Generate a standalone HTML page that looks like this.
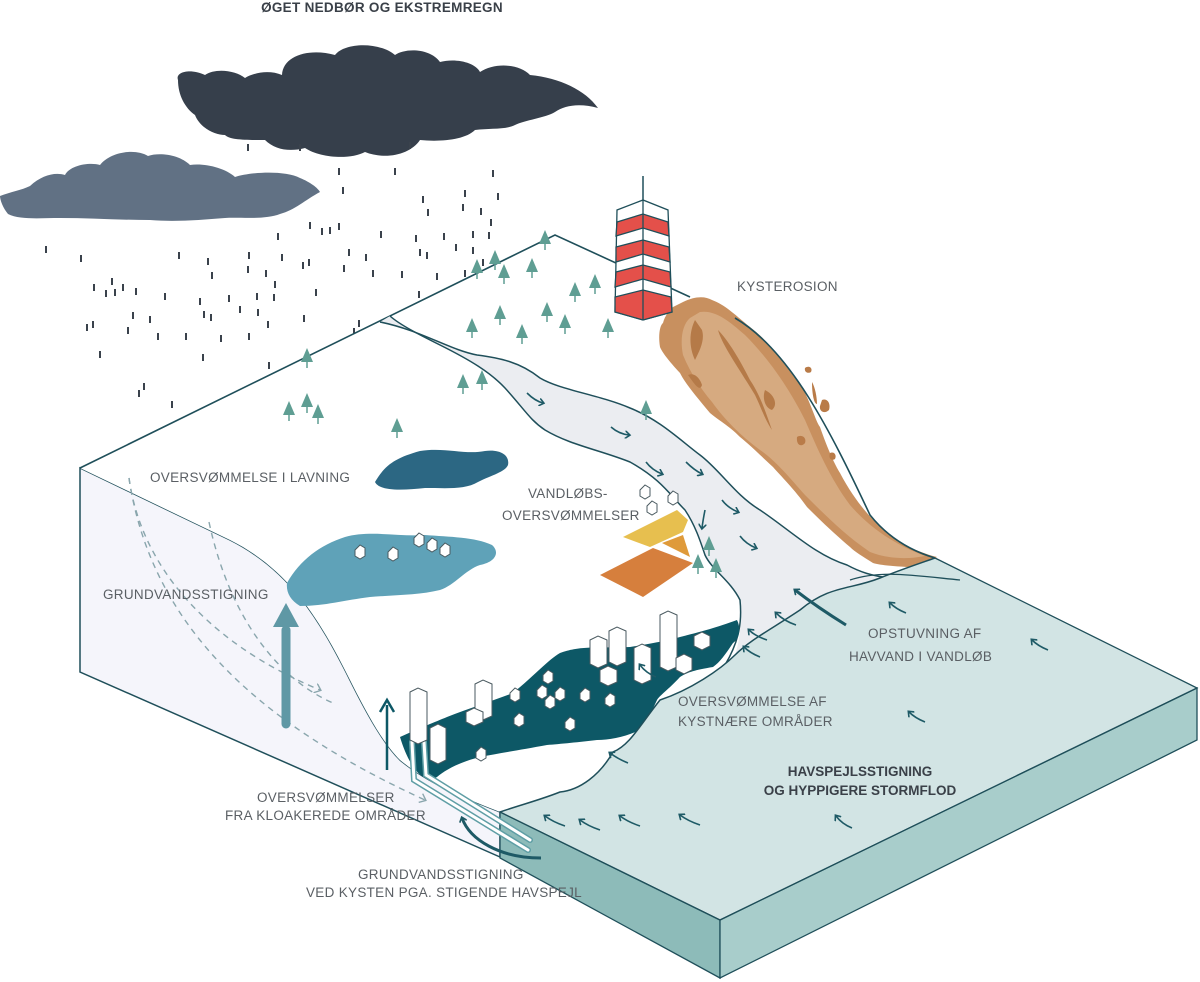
<!DOCTYPE html>
<html><head><meta charset="utf-8"><style>
html,body{margin:0;padding:0;background:#fff;}
svg{display:block;}
text{font-family:"Liberation Sans",sans-serif;}
.lbl{font-size:13.5px;fill:#5a5f64;letter-spacing:0.3px;}
.b{font-weight:bold;fill:#3a4048;}
</style></head><body>
<svg width="1200" height="982" viewBox="0 0 1200 982" xmlns="http://www.w3.org/2000/svg">
<defs>
<marker id="ah" markerWidth="8" markerHeight="8" refX="4" refY="4" orient="auto" markerUnits="userSpaceOnUse"><path d="M0,0 L5,4 L0,8" fill="none" stroke="#1e5a66" stroke-width="1.6"/></marker>
<marker id="ag" markerWidth="10" markerHeight="10" refX="5" refY="5" orient="auto" markerUnits="userSpaceOnUse"><path d="M0,0 L6,5 L0,10" fill="none" stroke="#8aa6ad" stroke-width="1.4"/></marker>
<g id="tree"><polygon points="0,-14 -6,0 6,0" fill="#5f9e93"/><line x1="0" y1="-2" x2="0" y2="6" stroke="#5f9e93" stroke-width="1.5"/></g>
</defs>

<!-- title -->
<text x="382" y="12" text-anchor="middle" class="b" style="font-size:13.5px;letter-spacing:0.3px">ØGET NEDBØR OG EKSTREMREGN</text>

<!-- clouds -->
<path d="M178,80 C175,72 190,68 205,75 C215,68 235,70 245,78 C255,72 270,70 282,75 C283,55 310,48 335,55 C345,42 380,42 395,55 C405,48 430,48 440,62 C455,58 475,62 480,72 C495,62 520,64 530,75 C560,78 585,90 598,108 C580,103 565,105 555,112 C545,118 525,120 515,125 C505,130 490,128 475,130 C465,140 440,142 420,140 C410,155 385,160 365,152 C350,160 320,158 305,148 C290,152 275,150 265,140 C245,140 230,140 225,135 C215,135 200,128 195,115 C185,108 178,95 178,80 Z" fill="#363f4b"/>
<path d="M0,196 C10,192 22,190 30,186 C42,175 55,172 65,175 C70,165 90,162 100,165 C110,152 135,148 148,156 C160,152 180,155 190,165 C205,163 225,168 235,177 C250,172 285,170 300,178 C310,182 318,188 320,192 C305,200 295,210 280,214 C265,220 240,217 225,218 C200,220 175,222 150,220 C120,220 90,218 60,218 C40,218 20,220 8,214 C3,208 0,200 0,196 Z" fill="#617184"/>

<!-- rain -->
<path stroke="#3a424c" stroke-width="2" fill="none" d="M248,144v7M339,168v7M395,168v7M493,170v7M343,187v7M423,196v7M465,190v7M498,193v7M463,204v7M481,208v7M428,209v7M491,219v7M310,222v7M322,228v7M330,227v7M339,223v7M278,233v7M381,231v7M416,235v7M444,233v7M473,231v7M489,232v7M456,244v7M473,247v7M420,249v7M427,252v7M349,249v7M366,254v7M46,246v7M81,255v7M179,252v7M208,258v7M249,252v7M282,254v7M303,262v7M309,259v7M344,265v7M248,266v7M212,272v7M266,270v7M373,270v7M402,271v7M437,273v7M465,270v7M483,259v7M112,278v7M94,284v7M106,290v7M115,289v7M123,284v7M136,288v7M165,293v7M200,298v7M229,295v7M257,293v7M274,294v7M275,281v7M316,289v7M419,291v7M484,299v7M133,312v7M150,316v7M204,311v7M211,314v7M240,306v7M258,309v7M268,321v7M304,315v7M87,324v7M93,321v7M128,327v7M158,333v7M186,333v7M221,335v7M249,333v7M359,320v7M354,328v7M387,338v7M100,351v7M203,354v7M269,362v7M449,348v7M478,346v7M432,366v7M498,374v7M360,382v7M144,383v7M139,390v7M172,401v7M233,410v7M263,408v7M216,429v7M282,437v7M144,444v7M410,142v7M300,144v7"/>

<!-- left side face -->
<path d="M80,468 L230,540 C290,570 320,620 350,680 C370,720 385,745 400,760 C430,785 470,800 500,812 L500,857 L80,672 Z" fill="#f5f5fb" stroke="#1f4f5a" stroke-width="1.5"/>
<!-- land top -->
<path d="M80,468 L555,235 L690,297 L735,318 C790,350 830,430 870,515 C890,540 915,552 935,558 L880,578 C850,590 830,585 800,610 C770,630 750,640 735,655 C720,670 690,690 660,700 C640,725 630,745 613,752 C600,775 580,790 560,792 C540,800 520,805 500,812 C470,800 430,785 400,760 C385,745 370,720 350,680 C320,620 290,570 230,540 Z" fill="#ffffff"/>
<line x1="80" y1="468" x2="690" y2="297" stroke="none"/>
<path d="M80,468 L555,235 L690,297" fill="none" stroke="#1f4f5a" stroke-width="1.6"/>

<!-- river -->
<path d="M380,322 C420,330 450,350 477,355 C500,358 520,362 540,378 C560,390 600,395 630,408 C660,420 680,440 700,455 C720,470 735,495 760,510 C790,530 815,555 847,565 C860,572 872,576 880,578 C850,590 830,585 800,610 C770,630 750,640 735,655 C740,640 742,620 740,600 C730,580 712,570 705,555 C700,540 695,525 685,510 C670,495 662,480 630,462 C600,450 570,445 545,430 C530,420 525,410 505,388 C490,372 470,360 440,345 C420,335 400,325 390,316 Z" fill="#ebedf1"/>
<path d="M380,322 C420,330 450,350 477,355 C500,358 520,362 540,378 C560,390 600,395 630,408 C660,420 680,440 700,455 C720,470 735,495 760,510 C790,530 815,555 847,565 C860,572 872,576 890,578" fill="none" stroke="#1f4f5a" stroke-width="1.5"/>
<path d="M390,316 C400,325 420,335 440,345 C470,360 490,372 505,388 C525,410 530,420 545,430 C570,445 600,450 630,462 C662,480 670,495 685,510 C695,525 700,540 705,555 C712,570 730,580 740,600 C742,620 740,640 725,665" fill="none" stroke="#1f4f5a" stroke-width="1.5"/>

<!-- erosion -->
<path d="M683,302 C695,296 705,296 712,300 C725,305 733,313 750,327 C770,342 790,370 800,383 C812,405 815,420 820,427 C828,450 835,465 840,473 C850,492 860,505 867,513 C880,528 895,540 900,543 C915,550 928,555 937,557 C925,565 915,568 907,567 C890,566 880,565 873,563 C862,556 855,552 850,547 C830,530 815,515 807,507 C795,490 780,475 773,467 C760,455 750,445 740,437 C728,425 718,420 710,413 C695,395 685,383 680,373 C668,360 662,352 660,347 C658,335 660,325 663,323 C665,315 670,310 673,307 Z" fill="#c8905f"/>
<path d="M700,312 C715,310 728,320 745,335 C770,360 790,390 805,420 C818,450 830,478 850,505 C870,528 895,545 925,556 C905,560 885,558 870,552 C845,535 825,515 805,495 C790,478 775,460 760,450 C740,435 725,420 712,402 C700,388 690,372 683,355 C680,340 682,325 690,318 Z" fill="#d6aa80"/>
<path d="M695,320 C690,330 688,345 695,360 C700,350 705,340 702,330 Z M718,330 C722,345 740,370 755,395 C760,405 765,420 772,430 C765,410 760,395 750,380 C740,360 728,340 718,330 Z M688,375 C695,385 700,392 702,385 C700,378 694,372 688,375 Z M765,390 C775,395 778,405 772,410 C765,408 762,398 765,390 Z" fill="#b57a48"/>
<path d="M735,318 C790,350 830,430 870,515 C890,540 915,552 935,558" fill="none" stroke="#1f4f5a" stroke-width="1.6"/>
<path d="M805,368 c4,-3 8,0 6,4 c-3,2 -7,0 -6,-4Z M812,382 c3,5 5,15 5,22 c-3,0 -5,-10 -5,-22Z M822,400 c5,-2 9,3 7,10 c-4,4 -10,2 -9,-4Z M797,437 c4,-3 10,0 8,6 c-3,4 -9,3 -8,-6Z M830,453 c4,-2 7,2 5,6 c-3,2 -7,0 -5,-6Z" fill="#b97b48"/>

<!-- lighthouse -->
<line x1="643" y1="176" x2="643" y2="203" stroke="#1f4f5a" stroke-width="1.5"/>
<g stroke="#1f4f5a" stroke-width="1.3">
<polygon points="617,210 643,200 668,210 672,312 643,320 615,312" fill="#fff"/>
<polygon points="617,222 643,214 668,222 669,236 643,228 616,236" fill="#e4504a"/>
<polygon points="616,247 643,240 669,247 670,262 643,254 616,262" fill="#e4504a"/>
<polygon points="616,272 643,265 670,272 671,287 643,279 615,287" fill="#e4504a"/>
<polygon points="615,297 643,290 671,297 672,312 643,320 615,312" fill="#e4504a"/>
<line x1="643" y1="200" x2="643" y2="320"/>
</g>

<!-- lakes -->
<path d="M375,482 C385,465 395,458 420,451 C445,447 465,455 485,451 C500,449 510,455 508,465 C505,472 492,475 478,482 C465,490 445,488 425,488 C405,490 380,492 375,482 Z" fill="#2c6783"/>
<path d="M287,583 C300,560 320,545 345,537 C370,530 400,537 425,535 C450,537 475,537 492,545 C500,552 496,562 480,565 C465,570 455,585 440,590 C420,595 395,595 370,597 C345,600 325,606 300,606 C290,600 286,592 287,583 Z" fill="#5fa2b8"/>

<!-- fields -->
<polygon points="623,537 677,510 688,520 683,532 650,547" fill="#e7bf4f"/>
<polygon points="662,543 683,535 690,557" fill="#df9a3a"/>
<polygon points="600,575 653,548 693,563 643,597" fill="#d67f3d"/>

<!-- city flood -->
<path d="M400,737 C420,728 435,722 447,717 C470,708 495,700 513,693 C535,675 548,660 560,653 C580,646 590,648 630,647 C655,643 670,640 680,637 C700,632 715,628 737,620 C742,630 738,640 733,643 C725,655 720,662 713,667 C695,670 688,672 680,677 C668,690 660,695 657,700 C650,715 645,725 640,730 C625,737 610,740 597,740 C580,742 560,744 547,745 C520,750 500,753 480,757 C460,762 445,770 437,777 C425,785 410,770 400,737 Z" fill="#0d5866"/>

<!-- sea top -->
<path d="M500,812 L720,920 L1197,688 L935,558 C915,565 900,570 880,578 C850,590 830,585 800,610 C770,630 750,640 735,655 C720,670 690,690 660,700 C640,725 630,745 613,752 C600,775 580,790 560,792 C540,800 520,805 500,812 Z" fill="#d2e4e4"/>
<path d="M935,558 C915,565 900,570 880,578 C850,590 830,585 800,610 C770,630 750,640 735,655 C720,670 690,690 660,700 C640,725 630,745 613,752 C600,775 580,790 560,792 C540,800 520,805 500,812" fill="none" stroke="#1f4f5a" stroke-width="1.5"/>
<path d="M850,580 C880,570 910,575 960,580" fill="none" stroke="#1f4f5a" stroke-width="1.3"/>
<!-- sea faces -->
<polygon points="500,812 720,920 720,978 500,858" fill="#8dbbb9" stroke="#1f4f5a" stroke-width="1.3"/>
<polygon points="720,920 1197,688 1197,740 720,978" fill="#a8cdcb" stroke="#1f4f5a" stroke-width="1.3"/>
<path d="M500,812 L720,920 L1197,688 L935,558" fill="none" stroke="#1f4f5a" stroke-width="1.3"/>

<!-- pipes -->
<path d="M412,742 L414,780 L528,850 M424,742 L426,775 L530,840" fill="none" stroke="#5f9ea5" stroke-width="6" stroke-linecap="round"/>
<path d="M412,742 L414,780 L528,850 M424,742 L426,775 L530,840" fill="none" stroke="#fff" stroke-width="3" stroke-linecap="round"/>

<!-- buildings -->
<g fill="#fff" stroke="#4a5a60" stroke-width="1">
<polygon points="410,692 418,688 427,692 427,740 418,744 410,740"/>
<polygon points="430,728 438,724 446,728 446,760 438,764 430,760"/>
<polygon points="475,684 483,680 492,684 492,716 483,720 475,716"/>
<polygon points="466,712 474,708 483,712 483,722 474,726 466,722"/>
<polygon points="590,640 598,636 607,640 607,664 598,668 590,664"/>
<polygon points="609,631 617,627 626,631 626,662 617,666 609,662"/>
<polygon points="634,648 642,644 651,648 651,680 642,684 634,680"/>
<polygon points="660,615 668,611 677,615 677,667 668,671 660,667"/>
<polygon points="676,658 684,654 692,658 692,670 684,674 676,670"/>
<polygon points="694,636 702,632 710,636 710,646 702,650 694,646"/>
<polygon points="600,670 608,666 617,670 617,682 608,686 600,682"/>
</g>
<g fill="#fff" stroke="#4a5a60" stroke-width="1">
<path d="M510,693 l5,-5 5,3 v8 l-5,3 -5,-3z"/><path d="M514,718 l5,-5 5,3 v8 l-5,3 -5,-3z"/><path d="M537,690 l5,-5 5,3 v8 l-5,3 -5,-3z"/><path d="M545,700 l5,-5 5,3 v8 l-5,3 -5,-3z"/><path d="M555,692 l5,-5 5,3 v8 l-5,3 -5,-3z"/><path d="M543,675 l5,-5 5,3 v8 l-5,3 -5,-3z"/><path d="M565,722 l5,-5 5,3 v8 l-5,3 -5,-3z"/><path d="M580,693 l5,-5 5,3 v8 l-5,3 -5,-3z"/><path d="M605,698 l5,-5 5,3 v8 l-5,3 -5,-3z"/><path d="M476,752 l5,-5 5,3 v8 l-5,3 -5,-3z"/>
<path d="M355,550 l5,-5 5,3 v8 l-5,3 -5,-3z"/><path d="M388,552 l5,-5 5,3 v8 l-5,3 -5,-3z"/><path d="M414,538 l5,-5 5,3 v8 l-5,3 -5,-3z"/><path d="M427,543 l5,-5 5,3 v8 l-5,3 -5,-3z"/><path d="M440,548 l5,-5 5,3 v8 l-5,3 -5,-3z"/>
<path d="M640,490 l5,-5 5,3 v8 l-5,3 -5,-3z"/><path d="M668,496 l5,-5 5,3 v8 l-5,3 -5,-3z"/><path d="M647,506 l5,-5 5,3 v8 l-5,3 -5,-3z"/>
</g>

<!-- trees -->
<g>
<use href="#tree" x="545" y="244"/><use href="#tree" x="477" y="273"/><use href="#tree" x="495" y="264"/><use href="#tree" x="504" y="278"/><use href="#tree" x="532" y="272"/><use href="#tree" x="575" y="296"/><use href="#tree" x="595" y="288"/><use href="#tree" x="500" y="319"/><use href="#tree" x="472" y="332"/><use href="#tree" x="547" y="316"/><use href="#tree" x="565" y="328"/><use href="#tree" x="522" y="338"/><use href="#tree" x="608" y="332"/><use href="#tree" x="463" y="388"/><use href="#tree" x="482" y="384"/><use href="#tree" x="307" y="362"/><use href="#tree" x="289" y="415"/><use href="#tree" x="307" y="407"/><use href="#tree" x="318" y="418"/><use href="#tree" x="397" y="432"/><use href="#tree" x="646" y="414"/><use href="#tree" x="709" y="550"/><use href="#tree" x="698" y="568"/><use href="#tree" x="716" y="572"/>
</g>

<!-- river arrows -->
<g fill="none" stroke="#1e5a66" stroke-width="1.6" marker-end="url(#ah)">
<path d="M527,393 q8,8 16,10"/><path d="M611,427 q8,7 18,8"/><path d="M646,462 q6,8 16,12"/><path d="M686,462 q8,8 16,12"/><path d="M722,500 q6,8 16,12"/><path d="M705,510 q-2,10 -3,18"/><path d="M740,536 q6,8 16,12"/>
</g>

<!-- sea arrows -->
<g fill="none" stroke="#1e5a66" stroke-width="1.6" marker-end="url(#ah)">
<path d="M796,625 q-12,-4 -20,-12"/><path d="M767,640 q-12,-4 -18,-10"/><path d="M906,613 q-10,-4 -16,-10"/><path d="M1048,650 q-10,-4 -16,-10"/><path d="M656,677 q-10,-4 -16,-12"/><path d="M925,722 q-10,-4 -16,-10"/><path d="M628,763 q-10,-4 -18,-10"/><path d="M565,826 q-12,-4 -20,-10"/><path d="M600,830 q-12,-4 -20,-10"/><path d="M640,826 q-12,-4 -20,-10"/><path d="M700,825 q-12,-4 -20,-10"/><path d="M852,828 q-10,-4 -16,-12"/><path d="M760,657 q-10,-4 -16,-10"/>
</g>
<path d="M846,625 C825,612 808,600 795,590" fill="none" stroke="#1e5a66" stroke-width="3" marker-end="url(#ah)"/>
<!-- coastal groundwater arrow -->
<path d="M541,858 C500,858 470,840 462,818" fill="none" stroke="#1e5a66" stroke-width="3" marker-end="url(#ah)"/>

<!-- groundwater arrows -->
<path d="M129,478 C140,560 200,640 320,690" fill="none" stroke="#8aa6ad" stroke-width="1.4" stroke-dasharray="6,5" marker-end="url(#ag)"/>
<path d="M209,522 C230,620 280,680 333,703" fill="none" stroke="#8aa6ad" stroke-width="1.4" stroke-dasharray="6,5"/>
<path d="M129,478 C150,620 250,720 425,800" fill="none" stroke="#8aa6ad" stroke-width="1.4" stroke-dasharray="6,5" marker-end="url(#ag)"/>
<line x1="286" y1="724" x2="286" y2="630" stroke="#5f98a5" stroke-width="9" stroke-linecap="round"/>
<polygon points="273,627 286,603 299,627" fill="#5f98a5"/>
<line x1="387" y1="770" x2="387" y2="705" stroke="#0d5866" stroke-width="2.5"/>
<path d="M380,712 L387,700 L394,712" fill="none" stroke="#0d5866" stroke-width="2.5"/>

<!-- labels -->
<text x="150" y="482" class="lbl">OVERSVØMMELSE I LAVNING</text>
<text x="103" y="599" class="lbl">GRUNDVANDSSTIGNING</text>
<text x="528" y="498" class="lbl">VANDLØBS-</text>
<text x="502" y="520" class="lbl">OVERSVØMMELSER</text>
<text x="737" y="291" class="lbl">KYSTEROSION</text>
<text x="868" y="638" class="lbl">OPSTUVNING AF</text>
<text x="849" y="661" class="lbl">HAVVAND I VANDLØB</text>
<text x="678" y="706" class="lbl">OVERSVØMMELSE AF</text>
<text x="678" y="726" class="lbl">KYSTNÆRE OMRÅDER</text>
<text x="860" y="776" text-anchor="middle" class="b" style="font-size:13.5px">HAVSPEJLSSTIGNING</text>
<text x="860" y="795" text-anchor="middle" class="b" style="font-size:13.5px">OG HYPPIGERE STORMFLOD</text>
<text x="257" y="802" class="lbl">OVERSVØMMELSER</text>
<text x="225" y="820" class="lbl">FRA KLOAKEREDE OMRÅDER</text>
<text x="358" y="879" class="lbl">GRUNDVANDSSTIGNING</text>
<text x="306" y="897" class="lbl">VED KYSTEN PGA. STIGENDE HAVSPEJL</text>
</svg>
</body></html>
